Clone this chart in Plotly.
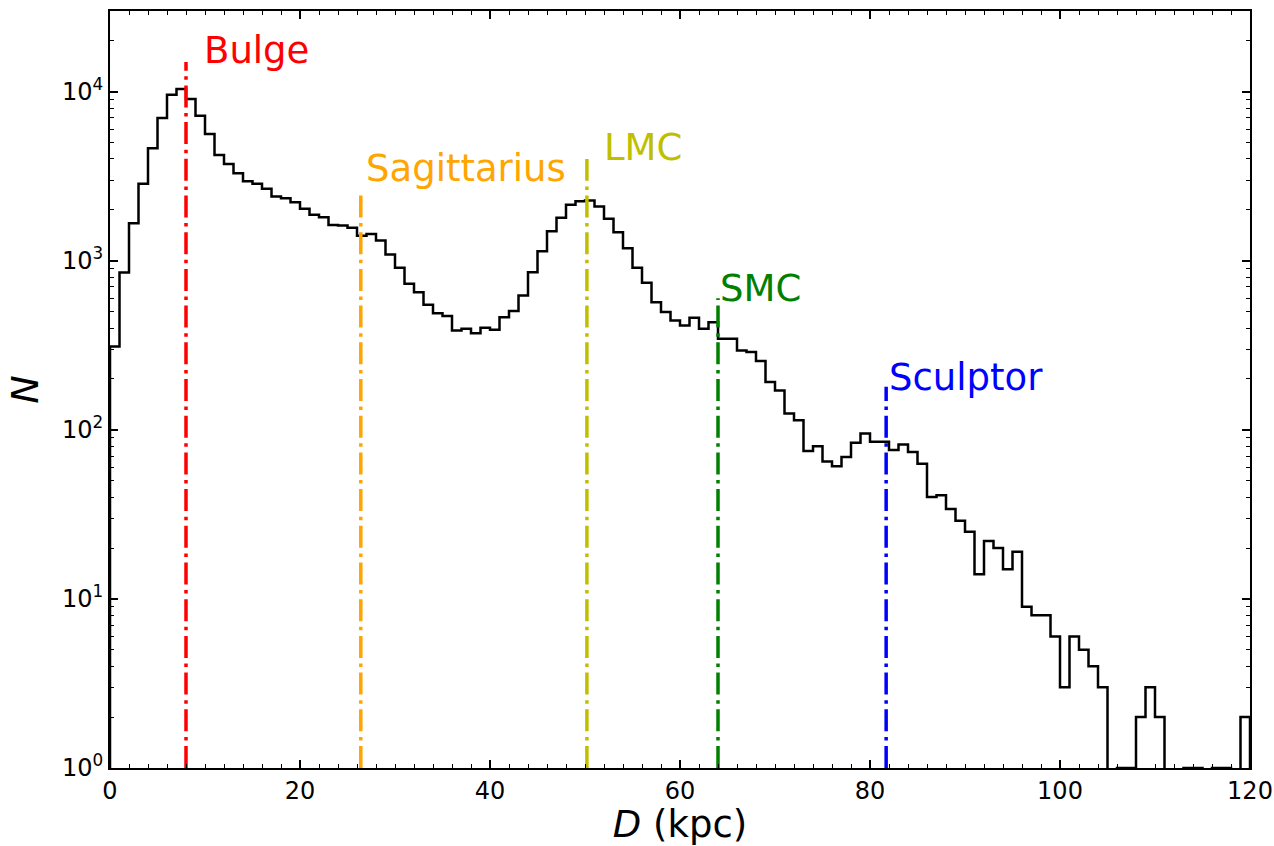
import numpy as np
import plotly.graph_objects as go

# Histogram: 1-kpc bins from 0 to 120 kpc
bin_edges = list(range(0, 121))
counts = [
    311, 853, 1667, 2850, 4625, 6995, 9600, 10380, 9060, 7215,
    5620, 4225, 3740, 3290, 2950, 2850, 2663, 2397, 2344, 2220,
    2028, 1870, 1809, 1630, 1616, 1565, 1408, 1442, 1317, 1089,
    908, 730, 652, 549, 490, 471, 387, 396, 373, 402,
    391, 464, 504, 623, 856, 1140, 1497, 1794, 2143, 2250,
    2270, 2097, 1770, 1475, 1186, 908, 740, 569, 497, 444,
    414, 460, 396, 433, 346, 346, 295, 289, 255, 192,
    171, 125, 114, 75, 80, 65, 61, 69, 84, 95,
    85, 85, 76, 82, 74, 63, 40, 41, 34, 29,
    25, 14, 22, 20, 15, 19, 9, 8, 8, 6,
    3, 6, 5, 4, 3, 0, 1, 1, 2, 3,
    2, 0, 0, 1, 1, 0, 1, 1, 0, 2,
]

# Reference structures
names = ["Bulge", "Sagittarius", "LMC", "SMC", "Sculptor"]
distances = [8.0, 26.4, 50.2, 64.0, 81.7]
line_tops = [15000, 2500, 4000, 600, 180]
label_x = [9.7, 26.7, 51.8, 64.0, 81.8]
label_y = [17500, 3500, 4700, 690, 205]
colors = ["#ff0000", "#ffa500", "#bfbf00", "#008000", "#0000ff"]

x_ticks = [0, 20, 40, 60, 80, 100, 120]
y_tickvals = [1, 10, 100, 1000, 10000]
y_ticktext = ["10<sup>0</sup>", "10<sup>1</sup>", "10<sup>2</sup>", "10<sup>3</sup>", "10<sup>4</sup>"]
y_minor = [m * 10 ** k for k in range(0, 5) for m in range(2, 10) if m * 10 ** k < 3e4]

FLOOR = 1e-3  # zero-count bins drop below the axis (clipped), as in the original
plot_counts = [c if c > 0 else FLOOR for c in counts]
hx = [bin_edges[0]] + bin_edges + [bin_edges[-1]]
hy = [FLOOR] + plot_counts + [plot_counts[-1], FLOOR]

FONT = "DejaVu Sans"

fig = go.Figure()
fig.add_trace(go.Scatter(
    x=hx, y=hy, mode="lines", line=dict(color="black", width=2.5, shape="hv"),
    showlegend=False, hoverinfo="skip"))

for n, d, top, c in zip(names, distances, line_tops, colors):
    fig.add_trace(go.Scatter(
        x=[d, d], y=[1, top], mode="lines",
        line=dict(color=c, width=3.5, dash="22px,5.6px,3.5px,5.6px"),
        showlegend=False, hoverinfo="skip"))

for n, lx, ly, c in zip(names, label_x, label_y, colors):
    fig.add_annotation(x=lx, y=np.log10(ly), text=n, showarrow=False,
                       xanchor="left", yanchor="middle",
                       font=dict(family=FONT, size=37, color=c))

axis_common = dict(showline=True, linecolor="black", linewidth=2, mirror="allticks",
                   ticks="inside", ticklen=8, tickwidth=1.5, tickcolor="black",
                   showgrid=False, zeroline=False, automargin=False,
                   tickfont=dict(family=FONT, size=24, color="black"))

fig.update_xaxes(range=[0, 120], tickvals=x_ticks,
                 minor=dict(ticks="inside", ticklen=4, tickwidth=1, tickcolor="black",
                            tickvals=list(range(2, 120, 2)), showgrid=False),
                 title=dict(text="<i>D</i> (kpc)", font=dict(family=FONT, size=37, color="black"),
                            standoff=6),
                 **axis_common)
fig.update_yaxes(type="log", range=[0, np.log10(3e4)], tickvals=y_tickvals, ticktext=y_ticktext,
                 minor=dict(ticks="inside", ticklen=4, tickwidth=1, tickcolor="black",
                            tickvals=y_minor, showgrid=False),
                 title=dict(text="<i>N</i>", font=dict(family=FONT, size=38, color="black"),
                            standoff=12),
                 **axis_common)

fig.update_layout(width=1274, height=846, margin=dict(l=110, r=24, t=11, b=78),
                  plot_bgcolor="white", paper_bgcolor="white")

fig.write_html("out.html")
